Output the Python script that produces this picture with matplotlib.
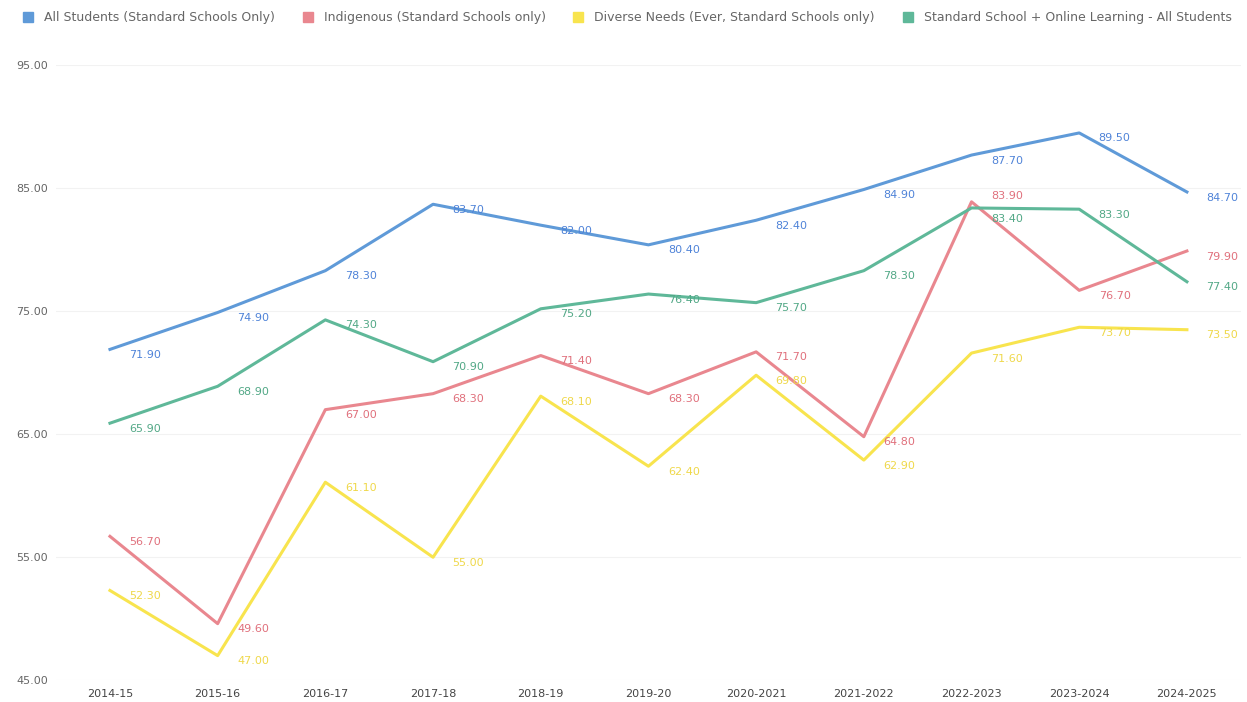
import matplotlib.pyplot as plt
from matplotlib.lines import Line2D

years = ["2014-15", "2015-16", "2016-17", "2017-18", "2018-19", "2019-20",
         "2020-2021", "2021-2022", "2022-2023", "2023-2024", "2024-2025"]

all_students = [71.9, 74.9, 78.3, 83.7, 82.0, 80.4, 82.4, 84.9, 87.7, 89.5, 84.7]
indigenous = [56.7, 49.6, 67.0, 68.3, 71.4, 68.3, 71.7, 64.8, 83.9, 76.7, 79.9]
diverse = [52.3, 47.0, 61.1, 55.0, 68.1, 62.4, 69.8, 62.9, 71.6, 73.7, 73.5]
online = [65.9, 68.9, 74.3, 70.9, 75.2, 76.4, 75.7, 78.3, 83.4, 83.3, 77.4]

names = ["All Students (Standard Schools Only)",
         "Indigenous (Standard Schools only)",
         "Diverse Needs (Ever, Standard Schools only)",
         "Standard School + Online Learning - All Students"]
colors = ["#5f9ad8", "#e9878f", "#f8e44e", "#5fb899"]
label_colors = ["#4f83d8", "#e0707c", "#efd84a", "#52a886"]

fig = plt.figure(figsize=(12.47, 7.02), dpi=100)
ax = fig.add_axes([0.045, 0.031, 0.95, 0.876])

x = list(range(len(years)))
series = [all_students, indigenous, diverse, online]
for k, (vals, c, lc) in enumerate(zip(series, colors, label_colors)):
    ax.plot(x, vals, color=c, lw=2.2)
    for xi, v in zip(x, vals):
        dy = -4
        # red and green labels crowd each other at 2022-2023
        if xi == 8 and k == 1:
            dy = 4
        elif xi == 8 and k == 3:
            dy = -8
        ax.annotate("%.2f" % v, (xi, v), xytext=(14, dy), textcoords="offset points",
                    ha="left", va="center", fontsize=8, color=lc)

ax.set_xlim(-0.5, len(years) - 0.5)
ax.set_ylim(45, 95)
ax.set_yticks([45, 55, 65, 75, 85, 95])
ax.set_yticklabels(["%.2f" % t for t in [45, 55, 65, 75, 85, 95]], fontsize=8, color="#666666")
ax.set_xticks(x)
ax.set_xticklabels(years, fontsize=8, color="#444444")
ax.tick_params(length=0, pad=6)
ax.grid(axis="y", color="#f2f2f2", lw=0.8)
for s in ax.spines.values():
    s.set_visible(False)

handles = [Line2D([], [], marker="s", ls="none", color=c, markersize=7) for c in colors]
fig.legend(handles, names, loc="upper center", bbox_to_anchor=(0.5, 1.0), ncol=4,
           frameon=False, fontsize=9, labelcolor="#666666", handletextpad=0.3,
           columnspacing=1.6)

fig.savefig("out.png", dpi=100)
